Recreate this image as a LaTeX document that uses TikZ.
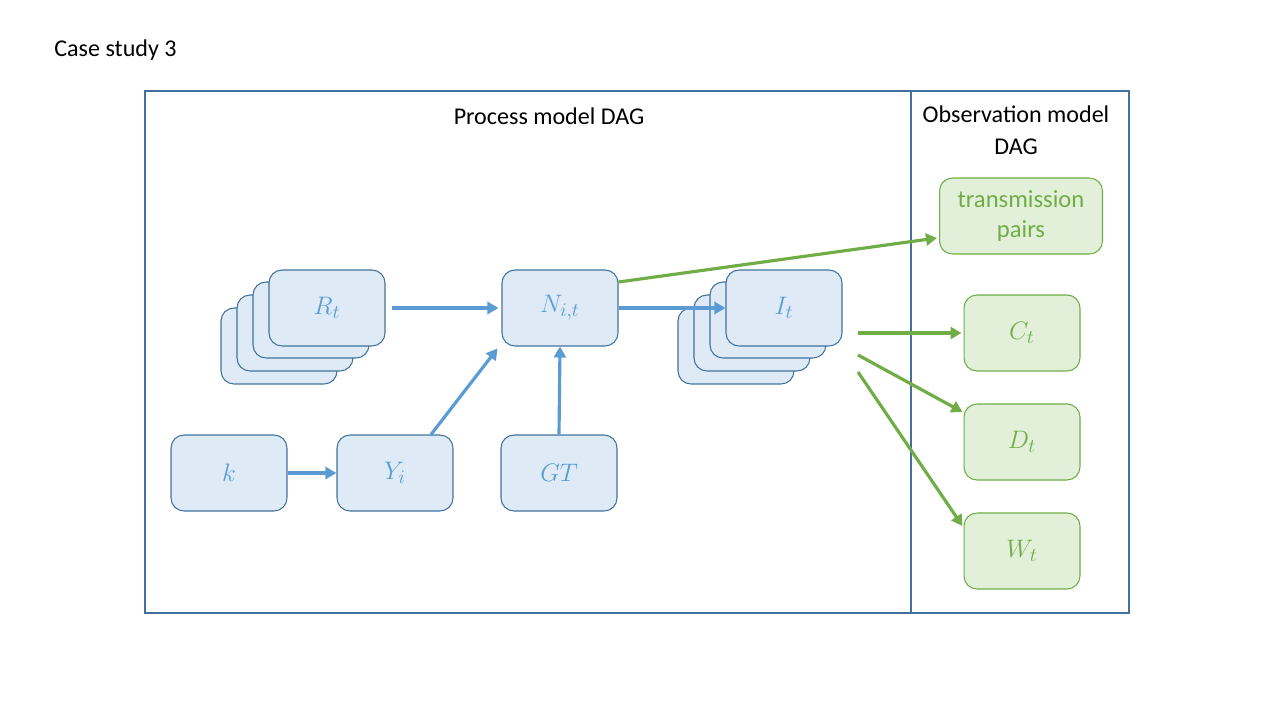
\documentclass[tikz,border=0pt]{standalone}
\usepackage{fontspec}
\setmainfont{Carlito}
\usetikzlibrary{arrows.meta,calc}
\definecolor{bfill}{HTML}{DEEBF7}
\definecolor{bline}{HTML}{41719C}
\definecolor{btext}{HTML}{5B9BD5}
\definecolor{gfill}{HTML}{E2F0D9}
\definecolor{gline}{HTML}{70AD47}
\definecolor{frame}{HTML}{41719C}
\tikzset{
  bluebox/.style={draw=bline, fill=bfill, line width=0.6pt, rounded corners=0.26cm,
    minimum width=2.32cm, minimum height=1.52cm, text=btext, font=\fontsize{15}{17}\selectfont},
  greenbox/.style={draw=gline, fill=gfill, line width=0.6pt, rounded corners=0.26cm,
    minimum width=2.32cm, minimum height=1.52cm, text=gline, font=\fontsize{15}{17}\selectfont,
    align=center},
  bluearrow/.style={draw=btext, line width=1.8pt, -{Triangle[length=0.22cm, width=0.24cm]}},
  greenarrow/.style={draw=gline, line width=1.8pt, -{Triangle[length=0.22cm, width=0.24cm]}},
  label/.style={font=\fontsize{13.7}{16}\selectfont, text=black, inner sep=0pt}
}
\begin{document}
\begin{tikzpicture}[x=0.02cm, y=-0.02cm]
\useasboundingbox (0,0) rectangle (1280,720);

% title
\node[label, anchor=west] (title) at (54,50) {Case study 3};

% frames
\draw[frame, line width=0.6pt] (145,91) rectangle (1129,613);
\draw[frame, line width=0.6pt] (911,91) -- (911,613);
\node[label] (proc) at (549,116) {Process model DAG};
\node[label, align=center] (obs) at (1016,130) {Observation model\\[2pt]DAG};

% stacked R_t boxes
\node[bluebox] (r4) at (279,346) {};
\node[bluebox] (r3) at (295,333) {};
\node[bluebox] (r2) at (311,320) {};
\node[bluebox] (rt) at (327,308) {$R_t$};

% stacked I_t boxes
\node[bluebox] (i4) at (736,346) {};
\node[bluebox] (i3) at (752,333) {};
\node[bluebox] (i2) at (768,320) {};
\node[bluebox] (it) at (784,308) {$I_t$};

% remaining process nodes
\node[bluebox] (n) at (560,308) {$N_{i,t}$};
\node[bluebox] (k) at (229,473) {$k$};
\node[bluebox] (y) at (395,473) {$Y_i$};
\node[bluebox] (gt) at (559,473) {$GT$};

% observation nodes
\node[greenbox, minimum width=3.26cm, font=\fontsize{14}{16}\selectfont] (tp) at (1021,216) {transmission\\[1pt]pairs};
\node[greenbox] (ct) at (1022,333) {$C_t$};
\node[greenbox] (dt) at (1022,442) {$D_t$};
\node[greenbox] (wt) at (1022,551) {$W_t$};

% process connectors
\draw[bluearrow] ($(rt.east)+(6,0)$) -- ($(n.west)+(-3,0)$);
\draw[bluearrow] (k.east) -- (y.west);
\draw[bluearrow] ($(y.north)+(36,0)$) -- ($(n.south west)+(-4,2)$);
\draw[bluearrow] (gt.north) -- (n.south);
\draw[bluearrow] (n.east) -- (it.west);

% observation connectors
\coordinate (o1) at (858,333);
\coordinate (o2) at (858,355);
\coordinate (o3) at (858,372);
\draw[greenarrow] ($(n.east)+(0,-26)$) -- ($(tp.west)+(-2,22)$);
\draw[greenarrow] (o1) -- ($(ct.west)+(-2,0)$);
\draw[greenarrow] (o2) -- ($(dt.west)+(-1,-30)$);
\draw[greenarrow] (o3) -- ($(wt.west)+(-1,-25)$);
\end{tikzpicture}
\end{document}
